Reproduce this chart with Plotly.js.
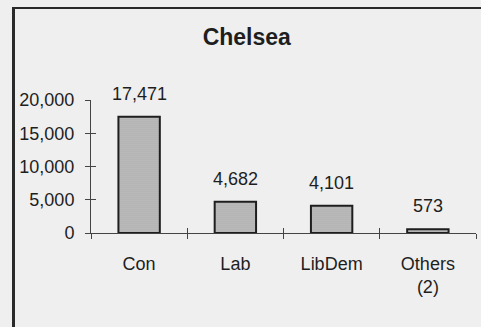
<!DOCTYPE html>
<html>
<head>
<meta charset="utf-8">
<script src="https://cdn.plot.ly/plotly-3.0.1.min.js"></script>
<style>
  html, body { margin: 0; padding: 0; background: #efefef; }
  #wrap { position: relative; width: 481px; height: 327px; overflow: hidden; }
  #chart { width: 481px; height: 327px; }
  #frame { position: absolute; left: 12px; top: 7px; width: 500px; height: 400px;
           border-left: 3px solid #2a2a2a; border-top: 2px solid #2a2a2a; pointer-events: none; }
</style>
</head>
<body>
<div id="wrap">
  <div id="chart"></div>
  <div id="frame"></div>
</div>
<script>
// Data
const parties = ["Con", "Lab", "LibDem", "Others<br>(2)"];
const votes = [17471, 4682, 4101, 573];
const voteLabels = ["17,471", "4,682", "4,101", "573"];
const yTickVals = [0, 5000, 10000, 15000, 20000];
const yTickText = ["0", "5,000", "10,000", "15,000", "20,000"];
const chartTitle = "Chelsea";

const FONT = "Liberation Sans, Arial, Helvetica, sans-serif";
const INK = "#1e1e1e";

const traces = [
  {
    type: "bar",
    x: parties,
    y: votes,
    width: 0.43,
    marker: {
      color: "#b8b8b8",
      line: { color: "#1e1e1e", width: 2 },
      pattern: { shape: ".", bgcolor: "#c4c4c4", fgcolor: "#8c8c8c", size: 2, solidity: 0.3 }
    },
    hoverinfo: "skip",
    xaxis: "x", yaxis: "y"
  },
  {
    type: "scatter",
    mode: "markers",
    x: parties,
    y: votes,
    marker: { opacity: 0 },
    hoverinfo: "skip",
    showlegend: false,
    xaxis: "x2", yaxis: "y2"
  }
];

const annotations = parties.map((p, i) => ({
  x: p, y: votes[i], xref: "x", yref: "y",
  text: voteLabels[i], showarrow: false,
  yanchor: "bottom", yshift: 11,
  font: { family: FONT, size: 18, color: INK }
}));

const commonY = {
  range: [0, 20000],
  tickvals: yTickVals,
  ticktext: yTickText,
  showgrid: false,
  zeroline: false,
  ticklen: 5,
  tickwidth: 1,
  tickcolor: "#444"
};

const layout = {
  width: 481, height: 327,
  margin: { l: 91, r: 5, t: 100, b: 94 },
  paper_bgcolor: "rgba(0,0,0,0)",
  plot_bgcolor: "rgba(0,0,0,0)",
  showlegend: false,
  title: {
    text: "<b>" + chartTitle + "</b>",
    x: 0.513, xref: "container", xanchor: "center",
    y: 0.887, yref: "container", yanchor: "middle",
    font: { family: FONT, size: 23, color: INK }
  },
  xaxis: {
    type: "category",
    categoryarray: parties,
    range: [-0.5, 3.5],
    tickson: "boundaries",
    ticks: "outside",
    ticklen: 5,
    tickwidth: 1,
    tickcolor: "#444",
    showline: true,
    linecolor: "#444",
    linewidth: 1,
    showgrid: false,
    ticklabelstandoff: 14,
    tickfont: { family: FONT, size: 18, color: INK },
    fixedrange: true
  },
  xaxis2: {
    type: "category",
    categoryarray: parties,
    overlaying: "x",
    range: [-0.5, 3.5],
    tickson: "boundaries",
    ticks: "inside",
    ticklen: 5,
    tickwidth: 1,
    tickcolor: "#444",
    showticklabels: false,
    showline: false,
    showgrid: false
  },
  yaxis: Object.assign({}, commonY, {
    ticks: "outside",
    showline: true,
    linecolor: "#444",
    linewidth: 1,
    ticklabelstandoff: 7,
    tickfont: { family: FONT, size: 18, color: INK }
  }),
  yaxis2: Object.assign({}, commonY, {
    overlaying: "y",
    ticks: "inside",
    showticklabels: false,
    showline: false
  }),
  annotations: annotations
};

Plotly.newPlot("chart", traces, layout, { displayModeBar: false, staticPlot: true });
</script>
</body>
</html>
